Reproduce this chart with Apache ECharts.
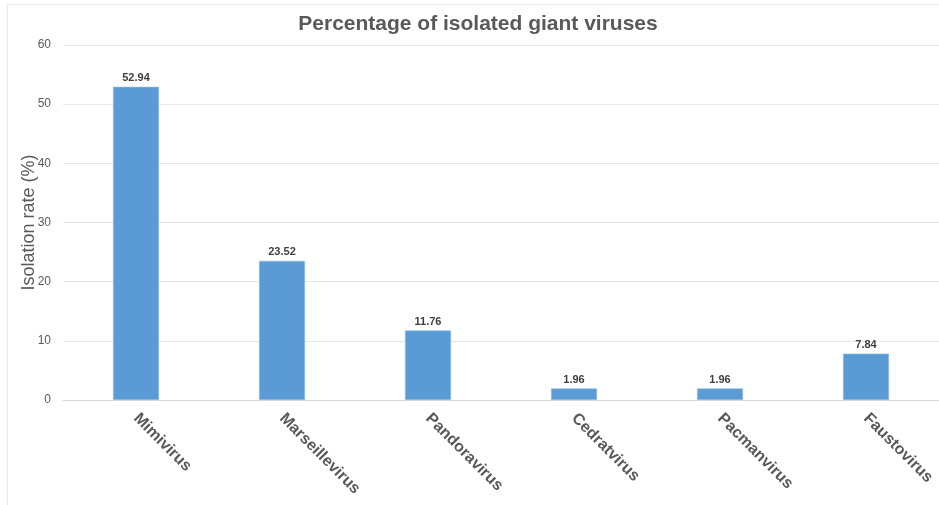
<!DOCTYPE html>
<html>
<head>
<meta charset="utf-8">
<script src="https://cdn.jsdelivr.net/npm/echarts@6/dist/echarts.min.js"></script>
<style>
  html, body { margin: 0; padding: 0; background: #fff; }
  #chart { width: 939px; height: 505px; }
</style>
</head>
<body>
<div id="chart"></div>
<script>
// Giant virus genera and their share of isolates (%)
const categories = ['Mimivirus', 'Marseillevirus', 'Pandoravirus', 'Cedratvirus', 'Pacmanvirus', 'Faustovirus'];
const isolationRate = [52.94, 23.52, 11.76, 1.96, 1.96, 7.84];

const chart = echarts.init(document.getElementById('chart'));
const textColor = '#595959';
const font = 'Liberation Sans, Arial, sans-serif';

chart.setOption({
  animation: false,
  backgroundColor: '#fff',
  graphic: [{
    type: 'rect',
    shape: { x: 7.5, y: 4.5, width: 1000, height: 600 },
    style: { fill: 'none', stroke: '#e8e8e8', lineWidth: 1 },
    silent: true
  }],
  title: {
    text: 'Percentage of isolated giant viruses',
    left: 473,
    top: 9,
    textAlign: 'center',
    textStyle: { fontFamily: font, fontSize: 21, fontWeight: 'bold', color: textColor }
  },
  grid: { left: 63, top: 45, width: 880, height: 355, containLabel: false },
  xAxis: {
    type: 'category',
    data: categories,
    axisLine: { lineStyle: { color: '#d9d9d9' } },
    axisTick: { show: false },
    axisLabel: {
      rotate: -45,
      margin: 16,
      fontFamily: font,
      fontSize: 16,
      fontWeight: 'bold',
      color: textColor,
      interval: 0
    }
  },
  yAxis: {
    type: 'value',
    min: 0,
    max: 60,
    interval: 10,
    name: 'Isolation rate (%)',
    nameLocation: 'middle',
    nameRotate: 90,
    nameGap: 25,
    nameMoveOverlap: false,
    nameTextStyle: { fontFamily: font, fontSize: 18, color: textColor },
    axisLine: { show: false },
    axisTick: { show: false },
    axisLabel: { margin: 12, fontFamily: font, fontSize: 12, color: textColor },
    splitLine: { lineStyle: { color: '#e6e6e6' } }
  },
  series: [{
    type: 'bar',
    data: isolationRate,
    barWidth: 46,
    itemStyle: { color: '#5b9bd5', borderColor: '#8fbde6', borderWidth: 0.6 },
    label: {
      show: true,
      position: 'top',
      distance: 3,
      fontFamily: font,
      fontSize: 11,
      fontWeight: 'bold',
      color: '#404040',
      formatter: p => p.value.toFixed(2)
    }
  }]
});
</script>
</body>
</html>
